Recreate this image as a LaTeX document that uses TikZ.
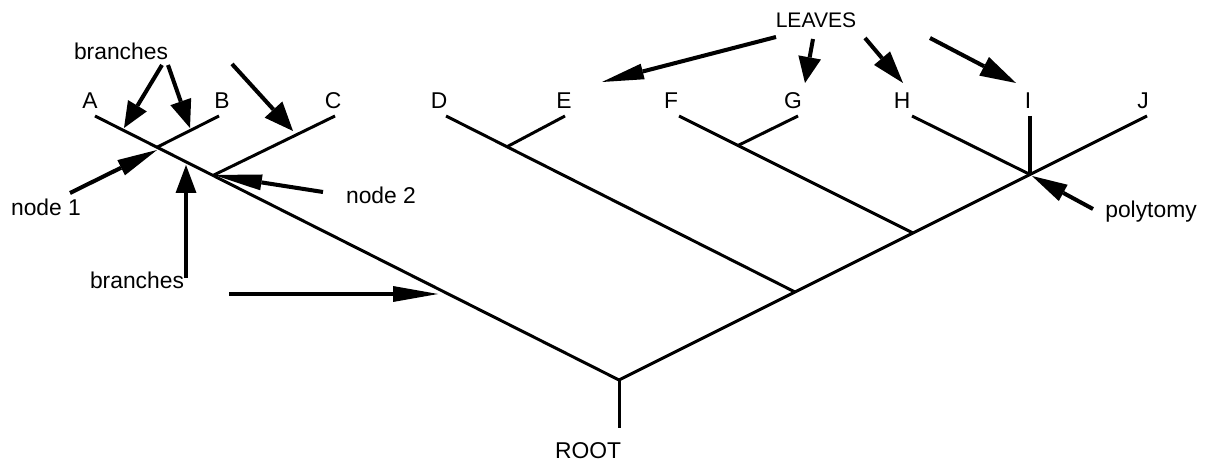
\documentclass[tikz,border=0pt]{standalone}
\usepackage{fontspec}
\setmainfont{Liberation Sans}
\usetikzlibrary{arrows.meta}
\tikzset{
  treeline/.style={line width=1.7pt},
  thickline/.style={line width=2.5pt},
  callout/.style 2 args={line width=2.3pt, -{Triangle[length=#1, width=#2, line width=0pt]}},
  lbl/.style={inner sep=0pt, anchor=base, font=\fontsize{13pt}{15pt}\selectfont},
  smalllbl/.style={inner sep=0pt, anchor=base, font=\fontsize{12pt}{14pt}\selectfont},
}
\begin{document}
\begin{tikzpicture}[x=0.02cm, y=-0.02cm]
\useasboundingbox (0,0) rectangle (1209,462);
% tree points
\coordinate (root) at (619,380);
\coordinate (rootbase) at (619,428);
\coordinate (aend) at (95,116);
\coordinate (n1) at (157,147.24);
\coordinate (n2) at (213,175.45);
\coordinate (bend) at (219,116);
\coordinate (cend) at (335,116);
\coordinate (dend) at (446,116);
\coordinate (nE) at (507,146.76);
\coordinate (eend) at (565,116);
\coordinate (nD) at (795,292);
\coordinate (fend) at (679,116);
\coordinate (nG) at (738,145.5);
\coordinate (gend) at (798,116);
\coordinate (nF) at (913,233);
\coordinate (hend) at (912,116);
\coordinate (poly) at (1030,174.5);
\coordinate (iend) at (1030,116);
\coordinate (jend) at (1147,116);
% tree
\draw[treeline] (aend) -- (root);
\draw[treeline] (root) -- (jend);
\draw[treeline] (root) -- (rootbase);
\draw[treeline] (n1) -- (bend);
\draw[treeline] (n2) -- (cend);
\draw[treeline] (dend) -- (nD);
\draw[treeline] (nE) -- (eend);
\draw[treeline] (fend) -- (nF);
\draw[treeline] (nG) -- (gend);
\draw[treeline] (hend) -- (poly);
\draw[thickline] (iend) -- (poly);
% leaf labels
\node[lbl] (la) at (90,109) {A};
\node[lbl] (lb) at (222,109) {B};
\node[lbl] (lc) at (333,109) {C};
\node[lbl] (ld) at (439,109) {D};
\node[lbl] (le) at (564,109) {E};
\node[lbl] (lf) at (671,109) {F};
\node[lbl] (lg) at (793,109) {G};
\node[lbl] (lh) at (902,109) {H};
\node[lbl] (li) at (1028,109) {I};
\node[lbl] (lj) at (1143,109) {J};
% other labels
\node[lbl] (brtop) at (121,60) {branches};
\node[lbl] (node1) at (46,216) {node 1};
\node[lbl] (node2) at (381,204) {node 2};
\node[lbl] (brbot) at (137,289) {branches};
\node[smalllbl] (leaves) at (816,28) {LEAVES};
\node[lbl] (polyt) at (1151,218) {polytomy};
\node[lbl] (rootl) at (588,458) {ROOT};
% arrow start points
\coordinate (s1) at (162,65);
\coordinate (s2) at (168,65);
\coordinate (s3) at (232,64);
\coordinate (s4) at (70,193);
\coordinate (s5) at (323,192);
\coordinate (s6) at (186,278);
\coordinate (s7) at (229,294);
\coordinate (s8) at (776,37);
\coordinate (s9) at (813,39);
\coordinate (s10) at (865,38);
\coordinate (s11) at (930,38);
\coordinate (s12) at (1093,209);
% arrow tips
\coordinate (t1) at (124,128);
\coordinate (t2) at (190,128);
\coordinate (t3) at (293,131);
\coordinate (t4) at (157,150);
\coordinate (t5) at (214,175);
\coordinate (t6) at (186,165);
\coordinate (t7) at (438,294);
\coordinate (t8) at (602,82);
\coordinate (t9) at (805,83);
\coordinate (t10) at (903,83);
\coordinate (t11) at (1016,83);
\coordinate (t12) at (1032,176);
% arrows
\draw[callout={0.52cm}{0.44cm}] (s1) -- (t1);
\draw[callout={0.56cm}{0.44cm}] (s2) -- (t2);
\draw[callout={0.58cm}{0.48cm}] (s3) -- (t3);
\draw[callout={0.80cm}{0.34cm}] (s4) -- (t4);
\draw[callout={0.96cm}{0.32cm}] (s5) -- (t5);
\draw[callout={0.56cm}{0.42cm}] (s6) -- (t6);
\draw[callout={0.90cm}{0.32cm}] (s7) -- (t7);
\draw[callout={0.84cm}{0.32cm}] (s8) -- (t8);
\draw[callout={0.52cm}{0.46cm}] (s9) -- (t9);
\draw[callout={0.65cm}{0.42cm}] (s10) -- (t10);
\draw[callout={0.72cm}{0.42cm}] (s11) -- (t11);
\draw[callout={0.71cm}{0.37cm}] (s12) -- (t12);
\end{tikzpicture}
\end{document}
